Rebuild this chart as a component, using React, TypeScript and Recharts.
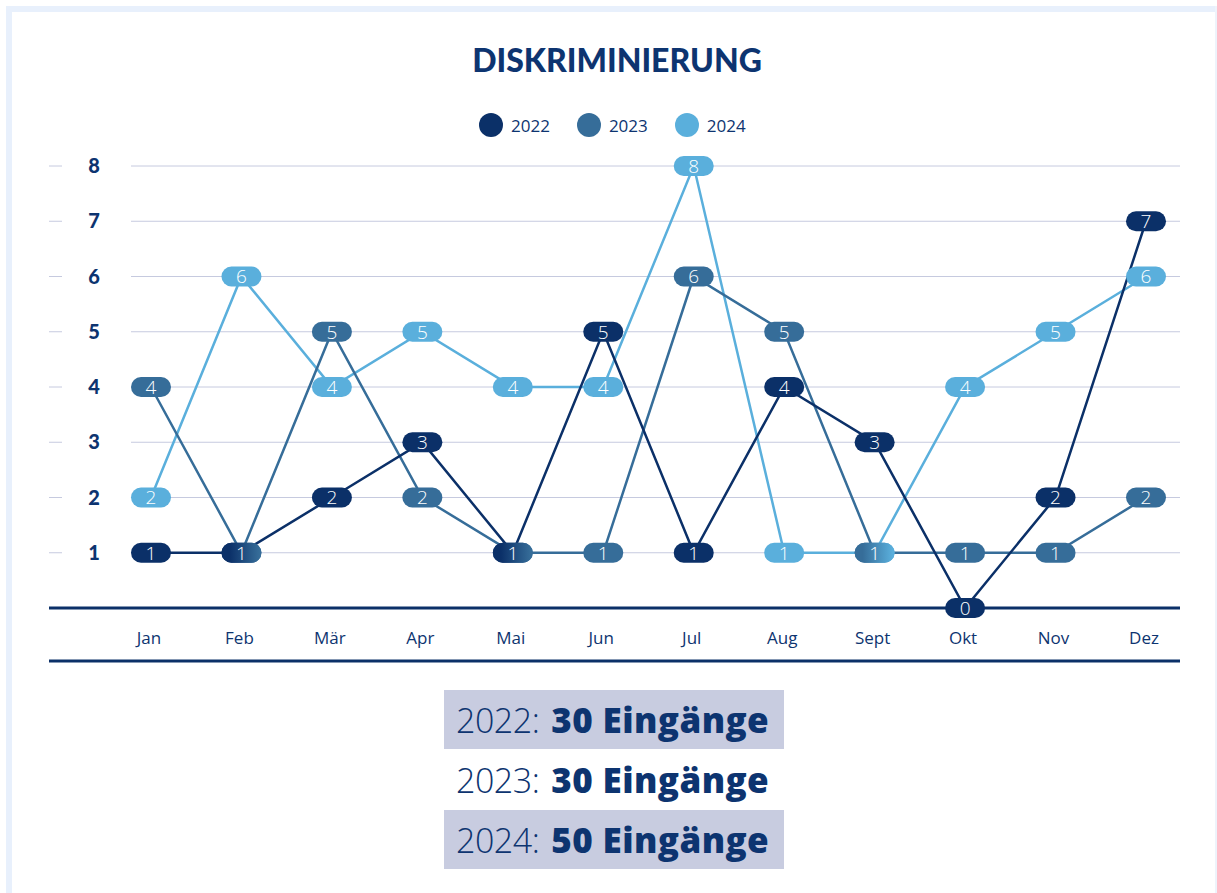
import React from 'react';
import { LineChart, Line, XAxis, YAxis, CartesianGrid, LabelList } from 'recharts';

const months = ['Jan', 'Feb', 'Mär', 'Apr', 'Mai', 'Jun', 'Jul', 'Aug', 'Sept', 'Okt', 'Nov', 'Dez'];
const values2022 = [1, 1, 2, 3, 1, 5, 1, 4, 3, 0, 2, 7];
const values2023 = [4, 1, 5, 2, 1, 1, 6, 5, 1, 1, 1, 2];
const values2024 = [2, 6, 4, 5, 4, 4, 8, 1, 1, 4, 5, 6];
const years = ['2022', '2023', '2024'];
const yTicks = [1, 2, 3, 4, 5, 6, 7, 8];
const title = 'DISKRIMINIERUNG';
const unitLabel = 'Eingänge';

const colors = ['#0b3068', '#366d99', '#5aafdc'];
const navy = '#0d3470';
const gridColor = '#c6cadf';
const boxColor = '#c8cce0';

const seriesValues = [values2022, values2023, values2024];
const keys = years.map((y) => 'y' + y);
const data = months.map((m, i) => ({
  month: m,
  y2022: values2022[i],
  y2023: values2023[i],
  y2024: values2024[i],
}));
const totals = seriesValues.map((arr) => arr.reduce((a, b) => a + b, 0));

const makePill = (s: number) => (props: any) => {
  const { x, y, value, index } = props;
  if (x == null || y == null) return null;
  const others = seriesValues
    .map((arr, k) => (k !== s && arr[index] === value ? k : -1))
    .filter((k) => k >= 0);
  let fill = colors[s];
  let defs = null;
  if (others.length) {
    const lo = Math.min(s, ...others);
    const hi = Math.max(s, ...others);
    const id = `pill-grad-${index}-${s}`;
    defs = (
      <defs>
        <linearGradient id={id} x1="0" x2="1" y1="0" y2="0">
          <stop offset="0.2" stopColor={colors[lo]} />
          <stop offset="0.95" stopColor={colors[hi]} />
        </linearGradient>
      </defs>
    );
    fill = `url(#${id})`;
  }
  return (
    <g>
      {defs}
      <rect x={x - 20} y={y - 10} width={40} height={20} rx={10} ry={10} fill={fill} />
      <text
        x={x}
        y={y}
        dy="0.36em"
        textAnchor="middle"
        fill="#ffffff"
        fontSize={19}
        fontFamily="Open Sans"
        fontWeight={300}
      >
        {value}
      </text>
    </g>
  );
};

const YTick = (props: any) => {
  const { y, payload } = props;
  return (
    <g>
      <line x1={49} x2={62} y1={y} y2={y} stroke={gridColor} strokeWidth={1} />
      <text
        x={94}
        y={y}
        dy="0.36em"
        textAnchor="middle"
        fill={navy}
        fontSize={20}
        fontFamily="Lato"
        fontWeight={900}
      >
        {payload.value}
      </text>
    </g>
  );
};

const XTick = (props: any) => {
  const { x, y, payload } = props;
  return (
    <text
      x={x - 2}
      y={y}
      dy={28}
      textAnchor="middle"
      fill={navy}
      fontSize={17}
      fontFamily="Open Sans"
    >
      {payload.value}
    </text>
  );
};

const gridLine = (props: any) => {
  const { x1, x2, y1, y2, index } = props;
  return (
    <line
      key={'g' + index + '-' + y1}
      x1={x1 + 82}
      x2={x2}
      y1={y1}
      y2={y2}
      stroke={gridColor}
      strokeWidth={1}
    />
  );
};

export default function App() {
  return (
    <div
      style={{
        position: 'absolute',
        left: 0,
        top: 0,
        width: 1217,
        height: 893,
        overflow: 'hidden',
        background: '#ffffff',
        fontFamily: 'Open Sans',
      }}
    >
      <div
        style={{
          position: 'absolute',
          left: 6,
          top: 6,
          width: 1220,
          height: 900,
          borderTop: '6px solid #e8f0fc',
          borderLeft: '6px solid #e8f0fc',
          boxSizing: 'border-box',
        }}
      />
      <div
        style={{
          position: 'absolute',
          left: 6,
          top: 6,
          width: 1211,
          height: 900,
          borderRight: '2px solid #eef3fb',
          boxSizing: 'border-box',
        }}
      />
      <div
        style={{
          position: 'absolute',
          left: 417,
          width: 400,
          top: 40,
          textAlign: 'center',
          fontFamily: 'Lato',
          fontWeight: 900,
          fontSize: 32,
          color: navy,
          lineHeight: '40px',
        }}
      >
        {title}
      </div>
      <div
        style={{
          position: 'absolute',
          left: 479,
          top: 113,
          display: 'flex',
          alignItems: 'center',
          height: 24,
        }}
      >
        {years.map((yr, i) => (
          <div key={yr} style={{ display: 'flex', alignItems: 'center', marginRight: i < 2 ? 27 : 0 }}>
            <div style={{ width: 24, height: 24, borderRadius: 12, background: colors[i] }} />
            <span style={{ marginLeft: 8, fontSize: 17, color: navy, fontFamily: 'Open Sans' }}>{yr}</span>
          </div>
        ))}
      </div>
      <div style={{ position: 'absolute', left: 0, top: 0 }}>
        <LineChart
          width={1217}
          height={670}
          data={data}
          margin={{ top: 166, right: 37, bottom: 0, left: 0 }}
        >
          <CartesianGrid vertical={false} horizontal={gridLine} />
          <XAxis
            dataKey="month"
            type="category"
            height={53}
            padding={{ left: 102, right: 34 }}
            tickLine={false}
            axisLine={{ stroke: colors[0], strokeWidth: 3 }}
            tick={<XTick />}
            interval={0}
          />
          <XAxis
            xAxisId="b"
            dataKey="month"
            type="category"
            height={9}
            tick={false}
            tickLine={false}
            axisLine={{ stroke: colors[0], strokeWidth: 3 }}
          />
          <YAxis
            width={49}
            domain={[0, 8]}
            ticks={yTicks}
            interval={0}
            axisLine={false}
            tickLine={false}
            tick={<YTick />}
          />
          {[2, 1, 0].map((s) => (
            <Line
              key={'line' + s}
              dataKey={keys[s]}
              stroke={colors[s]}
              strokeWidth={2.5}
              dot={false}
              activeDot={false}
              isAnimationActive={false}
            />
          ))}
          {[2, 1, 0].map((s) => (
            <Line
              key={'lab' + s}
              dataKey={keys[s]}
              stroke="none"
              strokeWidth={0}
              dot={false}
              activeDot={false}
              legendType="none"
              isAnimationActive={false}
            >
              <LabelList dataKey={keys[s]} content={makePill(s)} />
            </Line>
          ))}
        </LineChart>
      </div>
      {years.map((yr, i) => (
        <div
          key={'sum' + yr}
          style={{
            position: 'absolute',
            left: 444,
            top: 690 + i * 60,
            width: 340,
            height: 59,
            background: i === 1 ? 'transparent' : boxColor,
            display: 'flex',
            alignItems: 'center',
            paddingLeft: 12,
            boxSizing: 'border-box',
            color: navy,
            fontSize: 34,
            whiteSpace: 'nowrap',
          }}
        >
          <span style={{ fontFamily: 'Open Sans', fontWeight: 300, letterSpacing: -0.5 }}>{yr}:</span>
          <span style={{ fontFamily: 'Open Sans', fontWeight: 800, marginLeft: 12, fontSize: 35, letterSpacing: 0.4 }}>
            {totals[i]} {unitLabel}
          </span>
        </div>
      ))}
    </div>
  );
}
